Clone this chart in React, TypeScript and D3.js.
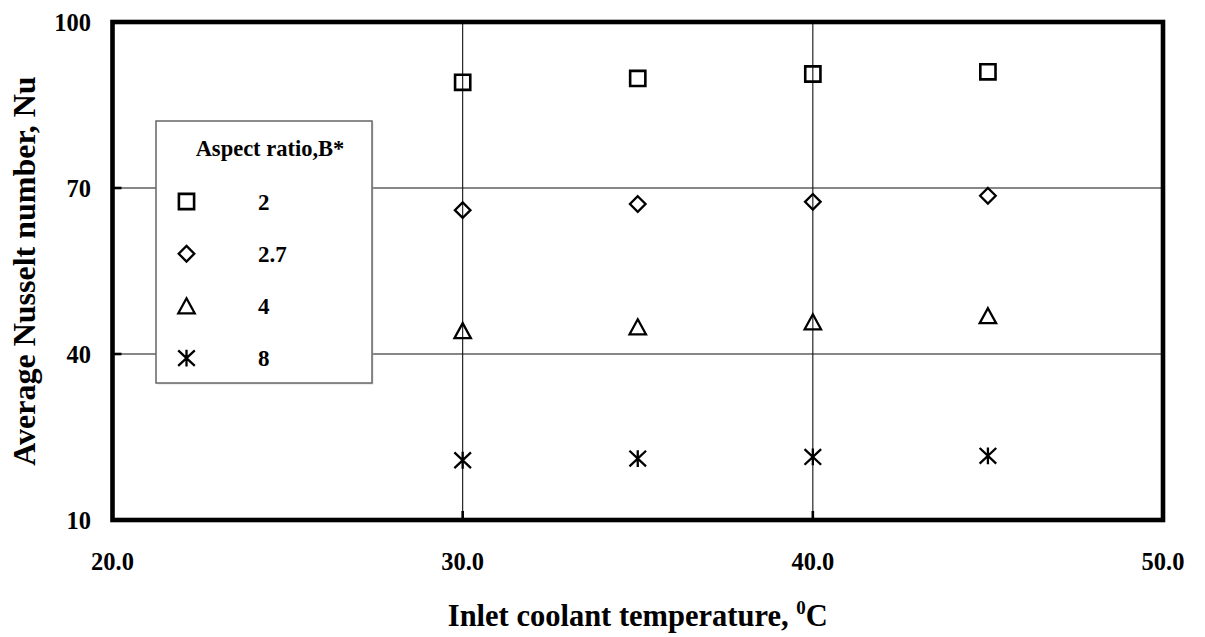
import React from "react";
import * as d3 from "d3";

// Inlet coolant temperature (°C) at which each case was run
const temperatures = [30, 35, 40, 45];

// Average Nusselt number for each aspect ratio B*
const nuB2 = [89.1, 89.8, 90.6, 91.0];
const nuB27 = [66.0, 67.1, 67.5, 68.6];
const nuB4 = [44.2, 44.9, 45.8, 46.9];
const nuB8 = [20.8, 21.1, 21.4, 21.6];

const aspectRatios = ["2", "2.7", "4", "8"];
const xTicks = [20, 30, 40, 50];
const yTicks = [10, 40, 70, 100];

type MarkerKind = "square" | "diamond" | "triangle" | "asterisk";

const seriesList: { label: string; values: number[]; marker: MarkerKind }[] = [
  { label: aspectRatios[0], values: nuB2, marker: "square" },
  { label: aspectRatios[1], values: nuB27, marker: "diamond" },
  { label: aspectRatios[2], values: nuB4, marker: "triangle" },
  { label: aspectRatios[3], values: nuB8, marker: "asterisk" },
];

const WIDTH = 1205;
const HEIGHT = 637;
const plot = { left: 112.5, right: 1163, top: 22, bottom: 520 };
const FONT = "'Liberation Serif', 'Times New Roman', serif";

function markerPath(kind: MarkerKind): string {
  switch (kind) {
    case "square": {
      const h = 7.6;
      return `M${-h},${-h}H${h}V${h}H${-h}Z`;
    }
    case "diamond": {
      const r = 7.8;
      return `M0,${-r}L${r},0L0,${r}L${-r},0Z`;
    }
    case "triangle":
      return "M0,-7.6L8.2,7.4L-8.2,7.4Z";
    case "asterisk":
      return "M-8.3,-7.8L8.3,7.8M8.3,-7.8L-8.3,7.8M0,-8.4V8.4";
  }
}

function markerStroke(kind: MarkerKind): number {
  return kind === "square" ? 2.6 : 2.3;
}

export default function App() {
  const x = d3.scaleLinear().domain([20, 50]).range([plot.left, plot.right]);
  const y = d3.scaleLinear().domain([10, 100]).range([plot.bottom, plot.top]);

  const innerX = xTicks.filter((t) => t > 20 && t < 50);
  const innerY = yTicks.filter((t) => t > 10 && t < 100);

  const legend = { x: 156, y: 121, w: 216, h: 262 };
  const legendRow0 = 201.5;
  const legendStep = 52.2;

  return (
    <svg
      width={WIDTH}
      height={HEIGHT}
      style={{ position: "absolute", left: 0, top: 0, background: "#fff" }}
      fontFamily={FONT}
    >
      <rect x={0} y={0} width={WIDTH} height={HEIGHT} fill="#fff" />

      {/* gridlines */}
      {innerX.map((t) => (
        <line
          key={`gx${t}`}
          x1={x(t)}
          x2={x(t)}
          y1={plot.top}
          y2={plot.bottom}
          stroke="#111"
          strokeWidth={1.1}
        />
      ))}
      {innerY.map((t) => (
        <line
          key={`gy${t}`}
          x1={plot.left}
          x2={plot.right}
          y1={y(t)}
          y2={y(t)}
          stroke="#111"
          strokeWidth={1.1}
        />
      ))}

      {/* inward tick marks */}
      {innerX.map((t) => (
        <line
          key={`tx${t}`}
          x1={x(t)}
          x2={x(t)}
          y1={plot.bottom}
          y2={plot.bottom - 9}
          stroke="#000"
          strokeWidth={2.6}
        />
      ))}
      {innerY.map((t) => (
        <line
          key={`ty${t}`}
          x1={plot.left}
          x2={plot.left + 9}
          y1={y(t)}
          y2={y(t)}
          stroke="#000"
          strokeWidth={2.6}
        />
      ))}

      {/* data markers */}
      {seriesList.map((s) =>
        s.values.map((v, i) => (
          <path
            key={`${s.label}-${i}`}
            d={markerPath(s.marker)}
            transform={`translate(${x(temperatures[i])},${y(v)})`}
            fill="none"
            stroke="#000"
            strokeWidth={markerStroke(s.marker)}
            strokeLinejoin="miter"
          />
        ))
      )}

      {/* legend */}
      <rect
        x={legend.x + 1.5}
        y={legend.y + 1.5}
        width={legend.w}
        height={legend.h}
        fill="#bbb"
        opacity={0.5}
      />
      <rect
        x={legend.x}
        y={legend.y}
        width={legend.w}
        height={legend.h}
        fill="#fff"
        stroke="#666"
        strokeWidth={1.5}
      />
      <text
        x={270}
        y={156}
        textAnchor="middle"
        fontSize={22.5}
        fontWeight="bold"
      >
        Aspect ratio,B*
      </text>
      {seriesList.map((s, i) => (
        <g key={`lg${s.label}`}>
          <path
            d={markerPath(s.marker)}
            transform={`translate(186.5,${legendRow0 + i * legendStep})`}
            fill="none"
            stroke="#000"
            strokeWidth={markerStroke(s.marker)}
          />
          <text
            x={258}
            y={legendRow0 + i * legendStep}
            dy="0.35em"
            fontSize={23}
            fontWeight="bold"
          >
            {s.label}
          </text>
        </g>
      ))}

      {/* plot frame */}
      <rect
        x={plot.left}
        y={plot.top}
        width={plot.right - plot.left}
        height={plot.bottom - plot.top}
        fill="none"
        stroke="#000"
        strokeWidth={4.6}
      />

      {/* tick labels */}
      {yTicks.map((t) => (
        <text
          key={`ly${t}`}
          x={91}
          y={y(t)}
          dy="0.35em"
          textAnchor="end"
          fontSize={24.5}
          fontWeight="bold"
        >
          {t}
        </text>
      ))}
      {xTicks.map((t) => (
        <text
          key={`lx${t}`}
          x={x(t)}
          y={569.5}
          textAnchor="middle"
          fontSize={24.5}
          fontWeight="bold"
        >
          {d3.format(".1f")(t)}
        </text>
      ))}

      {/* axis titles */}
      <text
        x={(plot.left + plot.right) / 2}
        y={626}
        textAnchor="middle"
        fontSize={30.5}
        fontWeight="bold"
      >
        Inlet coolant temperature,{" "}
        <tspan fontSize={19} dy={-12}>
          0
        </tspan>
        <tspan dy={12}>C</tspan>
      </text>
      <text
        transform={`translate(35,${(plot.top + plot.bottom) / 2}) rotate(-90)`}
        textAnchor="middle"
        fontSize={32}
        fontWeight="bold"
      >
        Average Nusselt number, Nu
      </text>
    </svg>
  );
}
